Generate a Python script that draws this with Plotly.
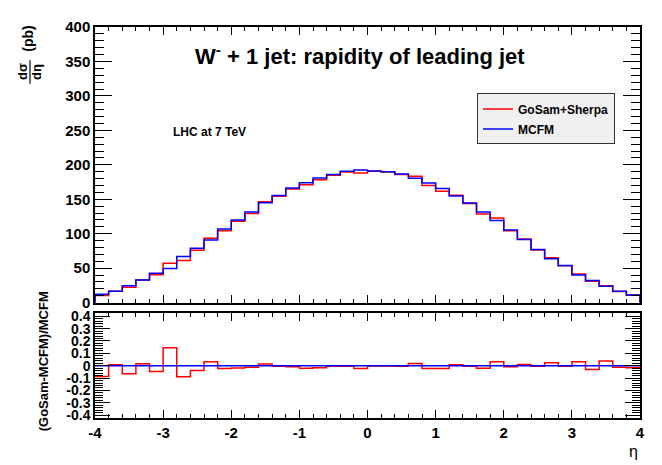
import plotly.graph_objects as go

# bin edges of eta (40 bins of width 0.2 from -4 to 4)
eta_edges = [-4.0, -3.8, -3.6, -3.4, -3.2, -3.0, -2.8, -2.6, -2.4, -2.2,
             -2.0, -1.8, -1.6, -1.4, -1.2, -1.0, -0.8, -0.6, -0.4, -0.2,
             0.0, 0.2, 0.4, 0.6, 0.8, 1.0, 1.2, 1.4, 1.6, 1.8,
             2.0, 2.2, 2.4, 2.6, 2.8, 3.0, 3.2, 3.4, 3.6, 3.8, 4.0]

mcfm = [12.3, 16.5, 24.5, 33.0, 42.5, 49.7, 67.0, 79.0, 90.8, 106.9,
        120.0, 131.4, 145.1, 155.5, 166.5, 174.0, 181.0, 185.8, 190.5, 192.5,
        191.0, 190.1, 186.8, 180.6, 173.5, 165.5, 154.7, 144.7, 131.4, 119.2,
        105.4, 91.7, 77.1, 63.8, 53.9, 40.2, 32.1, 23.7, 16.5, 11.0]

gosam = [10.5, 16.5, 22.5, 33.0, 40.5, 57.0, 61.0, 76.0, 93.5, 104.5,
         118.0, 129.5, 146.5, 154.5, 165.0, 171.0, 178.5, 185.0, 189.5, 188.0,
         190.5, 189.5, 186.0, 183.5, 170.0, 161.5, 156.0, 144.0, 128.5, 123.0,
         104.5, 92.5, 76.5, 65.0, 53.5, 41.5, 31.0, 24.5, 16.3, 10.8]

ratio_gosam = [-0.088, 0.008, -0.065, 0.016, -0.047, 0.145, -0.090, -0.039, 0.031, -0.023,
               -0.018, -0.013, 0.013, -0.005, -0.008, -0.021, -0.016, -0.005, -0.005, -0.023,
               -0.003, -0.003, -0.005, 0.018, -0.023, -0.023, 0.008, -0.005, -0.021, 0.031,
               -0.008, 0.010, -0.005, 0.023, -0.005, 0.031, -0.031, 0.039, -0.013, -0.016]

ratio_mcfm = [0.0] * 40

y_ticks_top = [0, 50, 100, 150, 200, 250, 300, 350, 400]
y_ticks_bot = [-0.4, -0.3, -0.2, -0.1, 0.0, 0.1, 0.2, 0.3, 0.4]
y_ticktext_bot = ["-0.4", "-0.3", "-0.2", "-0.1", "0", "0.1", "0.2", "0.3", "0.4"]
x_ticks = [-4, -3, -2, -1, 0, 1, 2, 3, 4]
x_ticktext = ["-4", "-3", "-2", "-1", "0", "1", "2", "3", "4"]


def step_xy(vals, base):
    xs = [eta_edges[0]] + eta_edges[:-1] + [eta_edges[-1], eta_edges[-1]]
    ys = [base] + list(vals) + [vals[-1], base]
    return xs, ys


def step_xy_open(vals):
    xs = eta_edges[:-1] + [eta_edges[-1]]
    ys = list(vals) + [vals[-1]]
    return xs, ys


FONT = "Liberation Sans, Arial, Helvetica, sans-serif"
RED = "#ff0000"
BLUE = "#0000ff"

# page body has an 8px margin: compensate so the plot frame lands at
# x 95..640, y 18..418 of the 662x465 window
OFF = 8
PX0, PX1, PY0, PY1 = 95, 640, 18, 418


def px(x):
    return (x - PX0) / (PX1 - PX0)


def py(y):
    return (PY1 - y) / (PY1 - PY0)


fig = go.Figure()

xr, yr = step_xy(gosam, 0)
fig.add_trace(go.Scatter(x=xr, y=yr, mode="lines", line=dict(color=RED, width=1.5, shape="hv"),
                         name="GoSam+Sherpa", legendgroup="a", xaxis="x", yaxis="y"))
xb, yb = step_xy(mcfm, 0)
fig.add_trace(go.Scatter(x=xb, y=yb, mode="lines", line=dict(color=BLUE, width=1.5, shape="hv"),
                         name="MCFM", legendgroup="b", xaxis="x", yaxis="y"))

xr2, yr2 = step_xy_open(ratio_gosam)
fig.add_trace(go.Scatter(x=xr2, y=yr2, mode="lines", line=dict(color=RED, width=1.5, shape="hv"),
                         showlegend=False, xaxis="x2", yaxis="y2"))
xb2, yb2 = step_xy_open(ratio_mcfm)
fig.add_trace(go.Scatter(x=xb2, y=yb2, mode="lines", line=dict(color=BLUE, width=1.5, shape="hv"),
                         showlegend=False, xaxis="x2", yaxis="y2"))

axis_common = dict(showline=True, linecolor="black", linewidth=1.5, mirror="ticks",
                   ticks="inside", tickcolor="black", showgrid=False, zeroline=False)

fig.update_layout(
    width=662 - OFF, height=465 - OFF,
    margin=dict(l=PX0 - OFF, r=662 - PX1, t=PY0 - OFF, b=465 - PY1),
    paper_bgcolor="white", plot_bgcolor="white",
    font=dict(family=FONT, color="black"),
    xaxis=dict(domain=[0, 1], range=[-4, 4], anchor="y", tickvals=x_ticks, showticklabels=False,
               ticklen=8, tickwidth=1, minor=dict(ticks="inside", ticklen=4, dtick=0.2, tickcolor="black"),
               **axis_common),
    yaxis=dict(domain=[py(300), 1], range=[0, 400], anchor="x", tickvals=y_ticks_top,
               ticklen=17, tickwidth=1,
               tickfont=dict(size=15, family=FONT, weight="bold"),
               minor=dict(ticks="inside", ticklen=9, dtick=10, tickcolor="black"),
               **axis_common),
    xaxis2=dict(domain=[0, 1], range=[-4, 4], anchor="y2", tickvals=x_ticks, ticktext=x_ticktext,
                ticklen=8, tickwidth=1,
                tickfont=dict(size=15, family=FONT, weight="bold"),
                minor=dict(ticks="inside", ticklen=4, dtick=0.2, tickcolor="black"),
                **axis_common),
    yaxis2=dict(domain=[0, py(311)], range=[-0.423, 0.423], anchor="x2", tickvals=y_ticks_bot,
                ticktext=y_ticktext_bot, ticklen=15, tickwidth=1,
                tickfont=dict(size=14, family=FONT, weight="bold"),
                minor=dict(ticks="inside", ticklen=8, dtick=0.02, tickcolor="black"),
                **axis_common),
    legend=dict(x=px(477), y=py(86), xanchor="left", yanchor="top",
                bgcolor="#f0f0f0", bordercolor="#333333", borderwidth=1,
                font=dict(size=12, family=FONT, weight="bold"),
                tracegroupgap=1, itemwidth=30),
    showlegend=True,
)

annotations = [
    dict(text="W<sup>-</sup> + 1 jet: rapidity of leading jet", xref="paper", yref="paper",
         x=px(360), y=py(47), xanchor="center", yanchor="middle", showarrow=False,
         font=dict(size=22, family=FONT, weight="bold")),
    dict(text="LHC at 7 TeV", xref="paper", yref="paper",
         x=px(209), y=py(125), xanchor="center", yanchor="middle", showarrow=False,
         font=dict(size=12, family=FONT, weight="bold")),
    dict(text="η", xref="paper", yref="paper",
         x=1.0, y=py(452), xanchor="right", yanchor="middle", showarrow=False,
         font=dict(size=16, family=FONT)),
    dict(text="(pb)", xref="paper", yref="paper",
         x=px(28), y=py(30), xanchor="center", yanchor="middle", showarrow=False,
         textangle=-90, font=dict(size=14, family=FONT, weight="bold")),
    dict(text="dσ", xref="paper", yref="paper",
         x=px(23), y=py(64), xanchor="center", yanchor="middle", showarrow=False,
         textangle=-90, font=dict(size=13, family=FONT, weight="bold")),
    dict(text="dη", xref="paper", yref="paper",
         x=px(37), y=py(64), xanchor="center", yanchor="middle", showarrow=False,
         textangle=-90, font=dict(size=13, family=FONT, weight="bold")),
    dict(text="(GoSam-MCFM)/MCFM", xref="paper", yref="paper",
         x=px(43), y=py(360), xanchor="center", yanchor="middle", showarrow=False,
         textangle=-90, font=dict(size=13, family=FONT, weight="bold")),
]
fig.update_layout(annotations=annotations)

fig.add_shape(type="line", xref="paper", yref="paper",
              x0=px(30), x1=px(30), y0=py(52), y1=py(76),
              line=dict(color="black", width=1.2))

fig.write_html("out.html")
